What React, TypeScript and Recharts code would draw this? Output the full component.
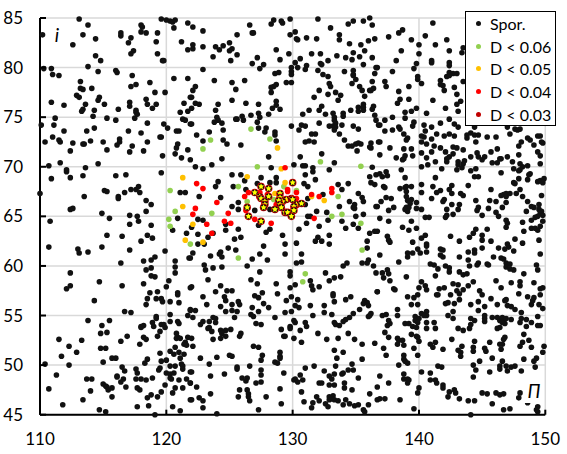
import React from "react";
import { ScatterChart, Scatter, XAxis, YAxis, CartesianGrid, Legend } from "recharts";

// Flat lists of Π, i value pairs, region by region.
const sporTopLeft = [113.1,84.9,113.8,84.3,110.2,83.3,113.4,83.3,114.4,82.9,112.6,82.3,116.4,83.5,116.4,83.2,117.2,83,117,82.5,118,84.3,118.1,84.1,118,83.6,118.4,83.5,119.3,83.5,119.2,82.6,119.6,84.9,120,84.8,120.3,84.7,120.5,84.6,120.7,84.8,120.6,84,121.7,84.5,121.2,82.6,121.7,81.8,119.3,81.4,117.4,81.7,117.2,81.4,114.4,81.2,114.8,80.7,113.8,80.1,110.3,79.9,110.9,79.9,111,79.3,111.5,79.2,114.6,79.6,116,79.7,116.1,79.5,119.7,80.7,119.8,80.7,117.3,79.2,120.6,78.9,121.7,78.9,113.2,78.6,118.7,78.5,117.6,78.3,117.2,78.1,113.2,77.9,113.4,77.8,114.1,77.9,119.1,77.5,119.9,77.5,112.9,77.2,113.1,77,114.7,77,114.6,76.7,110.9,76.5,111.9,76.2,113.6,76.3,115.1,76.3,117.1,76.5,117.1,76.1,118.4,76.8,118.5,76.3,119.2,76.3,118.9,75.9,121.4,76.4,121.9,77,114.3,75.7,113.4,75.8,113.3,75.6,116.2,75.8,117.6,75.7,117.6,75.5,117.7,75.3,121.1,75.5,121.7,75.6,114.2,75.1,111.2,74.9,115.3,74.9,116,74.7,117.5,74.9,121.3,74.8,121.5,74.7,110.1,74.2,111.1,74.2,118.5,74.4,119.8,74.3,121.9,74.3,111.9,73.6,113.7,73.6,114.3,73.9,117,73.6,118,73.4,120.1,73.9,120.8,73.6,121,73.6,111,73,116.3,72.8,116.3,72.5,119.6,73,119.5,73,110.4,72.5,111.5,72.7,111.6,72.5,112.6,72.4,113.4,72.3,113.5,72.3,114,72.6,115,72.5,116.1,72.2,117.3,72.1,118.5,72.5,120.9,72.3,120.8,71.9,121.7,71.7,115.3,71.7,112.4,71.6,118.2,71.6];
const sporTopMiddle = [122.1,84.1,122.9,83.7,122.1,82.3,122.1,81.9,122.9,82.1,123.9,82.1,124.2,81.8,124.5,82.2,125,82.5,125.2,81.9,125,81.7,125.6,83.3,123.7,81.1,125.6,81.3,125.1,80.7,126.6,84.3,126.8,83.5,126.9,83.5,128.5,84.8,128.3,84.4,129.1,84.7,129.2,84.5,129.8,84.9,132,84.9,130.2,83.6,129.8,83.3,130.3,82.9,130.4,82.8,131.1,83,131.9,82.9,133,84,133.7,83.3,133.7,82.8,134.4,84.4,134.8,84.7,135.6,84.7,136.1,85,136.3,84.3,134.5,82.4,135.4,82.3,136,82.7,136.5,82.9,128.7,81.8,127.2,81,129.7,81.4,131.5,81.4,132.2,81.4,129,80.8,130.6,80.9,126.8,80.4,127.7,80.3,127.4,79.9,130.2,80.5,131.1,80.2,130.4,80,131,79.8,132.2,80.4,132.3,80.3,132.8,80.7,133.5,81.2,134.2,81,134.7,80.8,134.8,81.5,135.3,81.1,135.7,81.7,136.3,81,135.6,80.3,136.6,80,136.5,79.4,136.3,78.6,122.9,79.8,129.9,80,129.9,79.6,129.9,79.3,129.9,78.5,129.5,78.5,128.6,79.4,128.9,79.5,132,79.7,132.4,79.3,132.8,79.1,134.1,79.6,134.8,79.7,134.8,79.3,134.8,79.2,135,78.8,134.7,78.4,123.8,78.7,125.2,78.5,126.2,78.7,128.7,78.3,128.5,78.1,128.3,78,128.3,77.5,122.3,78.1,122.1,77.7,125.5,77.8,132.9,78.4,133,78.1,132.1,77.7,133.4,77.5,132.8,77.3,133.8,77.2,131.7,77,135.3,78.1,135.5,77.7,136.1,77.7,136.2,77.7,136.4,77.9,135.7,77.1,122,77,122.3,76.4,122.6,76.3,122,75.9,123.9,75.7,124.1,76.3,125.2,76.7,126.3,76.4,127.3,76.3,128.7,76.6,128.7,76.2,128.4,75.9,129,75.8,133.6,76.7,132.3,76.1,132.1,75.7,131.3,75.7,134.6,75.7,135.2,75.6,135.2,76,135.6,76.3,135.6,76,135.6,75.7,136.3,75.8,136.4,76.1,136.5,75.2,127.3,75.4,127.4,75,126.7,75.2,126,75.1,128.1,75.3,130.8,75.3,132.6,75.3,133.2,75.4,133.3,75,134,75.4,134,75.1,124,75,124.1,74.7,124.4,74.4,123.8,74.5,125.5,74.8,125.6,74.8,126.1,74.7,122,74.3,127.2,74.5,127.3,73.9,127.9,73.9,127.8,73.5,128.6,73.5,128.6,73.2,129.9,74.1,130.5,73.7,130.7,74.2,131,74.1,132.1,74.4,131.5,73.3,131.8,73.3,133.3,74.7,133.4,74.4,132.9,74.1,133.2,74.1,133.4,74,133.3,73.7,133.7,73.3,133.9,74.2,134.8,74.1,135.2,73.8,136.6,74.7,136.8,74.2,124.5,73.7,123.4,73.5,122.4,73.2,124.5,72.7,124.8,72.3,122.9,72.6,125.9,72.2,128.7,72.6,131,72.5,131.3,72.6,131.7,72.5,134.1,72.7,134.4,72.1,134.7,72.1,135,72.3,135.2,72.4,135.4,72.3,136.2,72.4,136.2,71.9,136.8,72.5,135.1,71.6];
const sporTopRight = [141.1,84.5,138.7,83.8,138.4,83.5,137.6,83.1,139.4,82.8,140.5,83.2,142.2,82.8,140,82.3,141.3,82.3,138.6,81.7,140,81.4,142.4,81.7,143.5,82,143.4,81.5,138.2,80.7,139.8,80.4,141,80.7,141,80.5,142.4,80.5,142.4,80.2,136.7,80,137.9,79.6,139.6,79.9,139.9,79.1,139.9,78.8,140.2,78.4,142.4,79.5,142.2,79.1,142.7,79.4,143,79.4,142.4,79.2,137.3,78.6,137.4,78.1,141.7,78.7,141.7,78.3,141.9,78.2,142,77.7,142.8,78,143.5,78.6,138.4,77.6,139.2,78.1,143,77.3,138.5,76.8,138.3,76.4,139.2,76.8,141.1,76.7,143.3,76.6,143,76.3,139.8,75.9,139.4,75.6,138.9,75.5,142.1,75.9,143.1,75.6,140.6,75.4,137.3,74.7,137.9,75,138.9,74.9,142.4,74.8,136.9,74.2,137.3,73.6,137.9,73.7,138.4,74,138.5,73.8,139.6,74.5,139.5,74.1,138.8,73.3,139.1,72.9,139,72.7,140.4,74.2,141,74,141.7,74.4,142.8,74.3,143.1,74,144.4,74,140.5,73.6,141.4,73.3,140.4,73,140.2,73.1,141,72.8,142,73.1,142.4,73.3,142.8,73.1,143.8,73.2,144.1,73.4,144.4,73.2,143.8,72.9,144.7,73.2,145.4,73,146.1,73,144.5,72.5,147,74,147.2,73.3,147.6,73.8,147.8,73.7,148,73.8,148.6,72.9,148.8,72.7,149.1,72.2,149.4,73.1,149.6,73.1,149.7,72.5,149.8,72.4,148.1,72.5,147.9,72.1,137.7,71.9,136.9,72.5,138.8,71.8,139.4,71.8,140.2,72.5,140.6,72.3,141.2,72.1,141.7,71.9,142.7,72,143,71.9,143.5,71.7,146.2,71.8];
const sporMiddleLeft = [117.1,71.5,119.7,71.1,120.7,71.3,121.2,70.9,121.9,70.7,110.7,70.1,111.6,70.4,112.1,69.7,112.1,69.5,113.6,69.9,114.6,70.3,110.9,68.8,112.4,68.9,113.4,69.1,116,69.1,116.8,69.2,119.6,69.4,110,67.3,113.5,67,115.1,67.6,115.3,67.5,116.2,67,116.2,66.8,116.7,67.4,117.2,67.7,117.6,67.7,117.8,68,117.9,67.4,118.4,66.6,118.8,66.2,121.1,67.4,121.5,67.4,112.4,65.7,112.6,65.8,114.9,65.3,118.4,65.5,117.1,65.1,117.7,65,110.8,64.5,115.5,64.8,117.8,64.5,117.1,64.2,118.8,64.1,120.9,64.8,120.5,63.6,115.3,63.1,116.5,63,118.5,63.1,118.9,62.8,118,62.5,121.6,63.3,110.7,61.9,113,61.7,113.1,61.3,113.8,61.4,114.9,61.9,117.1,61.6,119.9,61.5,118.2,60.5,118.8,60.6,119.1,60.9,120.7,60.5,121.9,60.8,116.4,60.3,118.4,59.6,118.8,59.8,120.7,59.9,120.7,59.3,112.4,59.3,118.8,59,119.1,58.9,120.2,58.5,114.7,58.4,116.5,58,118.2,58.2,112.4,58,112.1,57.7,120,57.9,118.7,57.3,119.3,57.4,120.9,57.3,120.9,57.1,118.5,56.7,119.2,56.7,119.6,56.7,114.3,56.5,121.9,57.8];
const sporCentre = [122.3,70,122.9,69.8,123.6,70.2,124.4,70.8,128.1,71,130.6,71,132.3,71.3,133.3,70.4,130.1,70.2,130.8,70.1,131,70.1,131.6,69.9,131.6,69.5,132.9,69.7,125.2,69.2,125.9,69.2,127.5,68.9,128.3,69.9,128.7,68.9,124.1,68.5,126.2,68.6,127.2,68.3,128.2,68.4,128.7,68.4,131,69.2,130.9,68.3,131.8,68.7,123.9,68,125.3,68,131.2,68,133.6,68.2,134.4,68.3,133.9,67.7,135.2,67.3,126.3,67.7,122.6,67,124.3,66.9,125.7,66.4,125.2,66,125.7,65.7,127,65.6,128.2,65.7,131,66.2,131.2,66.8,132.4,67.2,131.9,65.5,132.7,65.4,134.5,66.5,134.9,66.2,134.8,65.9,134.9,65.8,133.7,66,131.2,65,131.4,65,132.8,64.6,131.1,64.3,132.1,64,133.9,64.5,134.8,64.2,134.2,63.8,135,65,130.5,63.7,129.2,63.1,132.9,63.1,132,62.9,131.8,62.5,132.3,62.5,132.9,62.2,130.3,62.3,129.4,62.2,127.7,62,129.4,61.2,130.7,61.2,127.4,61.2,127.3,64.1,128.2,63.7,127.9,63.4,125.7,63.7,124.7,63.6,124.7,64.2,125.9,62.9,125.4,62.7,123.3,62.9,123.7,63.3,122.5,63.2,122,63.9,122.9,64.6,122.5,64.7,123,62.2,122.5,62.2,124.9,61.8,125.5,61.6,122.1,61.3,121.8,60.8,123.5,61,124.3,61.4,124.2,61.2,124.4,60.9,126.8,60.7,128,60.6,126.4,60,130.7,60.4,130.3,60.3,134.3,60.3,134,60,123,60.1,123.1,59.6,123.7,59.8,124.4,59.9,127.4,59.4,129.8,59.4,129.8,59,132.6,59.3,133.3,58.8,133.8,58.9,136.1,72,136.3,69.95,136.1,69,136.6,69.2,136.2,68.4,136.5,68.2,135.5,66.9,135.6,66.5,136.6,66,135.6,65.2,135.2,63.8,136.1,63.3,136.5,63.5,135.9,62.5,135.9,61.8,136,60.6,135.5,60.3,135.9,60.3,136.4,60,136.6,59.3];
const sporMiddleRight = [136.9,71.2,138.2,70.9,138.7,70.7,138.9,71.1,138.8,70.8,139.5,71.1,140.2,71.4,140.6,70.9,141,71.5,141.3,70.5,140.7,70.2,140.2,70,142.1,71.5,142.7,71.3,142.4,71,142.2,70.8,142.2,70.5,143.1,70.5,143.1,70.2,143.6,70.6,143.5,70.3,143.4,69.9,143,69.7,144.1,71,144.6,71.4,144.7,71,145.2,71,145,70.7,145.7,71.5,145.8,70.4,146.2,70.4,146.4,70.8,146.5,70.8,147,71,147.4,70.5,147.9,71.2,149.4,71.5,149.6,71.1,149.6,70.3,148,70.3,148.2,70,148.6,70.1,148,69.7,147.5,69.8,147.9,69.6,141.8,69.8,144.1,69.6,144.5,69.8,144.4,69,144.7,69,146.5,69.4,138.6,69.7,137.4,69.5,137.5,69.1,136.9,69.3,137.1,69,138.9,68.9,141.3,68.9,148.8,69.3,148.7,69.2,148.6,68.7,147.9,68.8,147.5,68.4,147.6,68.3,149.4,68.5,149.6,68.6,149.9,68.8,149.8,68.4,143.9,68.1,142.6,68.1,142.4,67.7,142.6,67.3,141.1,68,141.7,67.6,141.4,67.4,140.2,68.2,140.2,67.4,137.2,68,137.3,67.9,138.5,67.8,138.9,67.9,139,68,139.4,68,139,67.5,139,67,139.1,66.6,139.4,66.7,139.3,66.3,139,65.9,139.2,65.9,138.9,65.7,139.1,65.5,137.4,66.9,137.8,66.8,137,66.5,136.7,66,137.6,65.6,138,65.9,139.8,66.4,139.8,65.8,140.2,65.7,141,66.8,142,66.7,141.9,66.5,143.3,67.3,143.5,67.1,145.7,67.7,144.5,66.6,145.6,66.6,146.1,66.5,146.7,67.2,146.9,67.3,146.9,67,146.9,66.4,147.2,67.3,147.7,67.3,148,67.7,148.2,67,146.5,67.1,148.6,66.5,148.9,66,149.1,65.9,149.5,66.2,149.7,67.1,142.6,66.2,143.2,66.2,142.2,65.7,143.1,65.7,144.7,65.9,144.6,65.6,145.5,65.8,146.6,65.9,146.1,65.4,146.3,65,148.5,65.5,149.5,65.7,149.7,65.5,149.6,65.3,149.8,65.1,142.7,65.2,142.2,65.1,142.1,64.9,145,65.1,140.5,64.9,140.8,64.9,136.9,64.8,137.6,64.5,139.4,64.5,146.9,64.6,147,64.3,146.9,63.9,148.2,64.4,148.3,63.5,148.9,64.6,149.2,64.9,149.4,65,149.8,64.5,149.6,64,149.4,63.6,148.9,63.8,149.2,63.8,138.7,63.9,139.2,63.6,139.8,63.8,136.7,63.5,145.4,63.7,144.5,63.7,144.3,63.3,144,62.9,145,63.1,145,62.6,145.7,62.5,142.5,63,143.2,62.5,140.5,63.1,140.2,62.8,137.5,63,137.6,62.6,137.7,62.4,139.5,62.4,147.6,62.7,148.2,62.3,149.5,62.6,140.6,62.2,140.6,62,139.9,61.7,140.1,61.3,140.6,61.4,139.5,61.3,139.1,61.3,139.1,60.9,138.4,60.4,136.9,61.1,141.7,61.7,141.9,61.6,141.7,61.1,141.9,60.9,143.2,60.9,143.9,61.4,144.4,61.6,144.4,61.3,145,61.8,146.3,61.8,146.8,61.7,147,62.2,147.1,61.9,147.5,61.5,149.6,61.2,145.9,60.9,146.5,60.8,146.7,60.7,143.9,60.6,144,60,144.7,60.3,144.6,60.1,145.4,60.2,145.5,60.1,146.9,60.3,147.2,60.2,146.9,59.9,147.2,59.7,147.5,59.6,140.9,60.2,141.2,60.1,141.5,59.7,142.1,60,142.4,59.8,142.4,59.4,143.2,59.4,143.5,59.1,143.8,59.2,141.3,59,139,58.9,137.5,59.6,137.6,59.2,137.1,59.3,137.2,58.8,137.7,58.5,138,57.7,138.1,57.6,149.3,60.1,149.4,59.6,148.3,59.2,140.2,58.4,140.5,58,140.6,57.6,140,57.8,141.6,57.7,142,57.8,142.7,58.2,143.1,58.1,143,57.5,143.2,57.2,143.5,57.6,143.9,58,144.3,58.4,141.5,57.1,141.4,57.1,142.5,57.1,139.9,57.1,139.6,56.8,139.1,56.9,146.1,58.5,146.5,57.8,147.3,58.3,148,58.4,148,58,147.9,57.2,149.1,58.3,148.6,56.9,149.6,57.7,149.8,57.8,149.6,57.1,149.1,56.8,144.8,57.5,145,57.1,145.7,56.7,146.9,56.6,143.2,56.6,136.7,57.4];
const sporBottomLeft = [118.4,56.1,119.7,56.4,120.3,56.4,121,56.3,121.9,55.6,116.7,55.4,117.2,55.3,119.2,54.9,119.2,54.7,120.3,55.1,121.7,55,113.8,54.5,115.5,54.5,114.9,54,120.3,54.4,120.9,54.4,121,54.2,118.9,54.3,119,53.9,118,53.9,118,53.8,118.2,54,119.6,54.1,119.8,54.1,119.9,53.8,119.5,53.4,114.8,53.2,115.3,53.3,116.9,52.9,119.3,52.9,118.2,52.8,118.4,52.6,120.8,53.2,120.9,52.8,120.8,52.7,121.1,52.7,121.7,52.8,111.5,52.6,113.3,52.5,116.4,52.4,117.9,52.1,112.3,51.9,121.5,52.3,121.4,52.1,121.6,52,114.8,51.7,115.2,51.7,112.9,51.3,111.7,50.9,112.3,50,120.7,51.8,120.3,51.4,120.6,51.1,121,51.3,121.4,51.1,119.5,51.2,115.7,50.7,116,50.7,115,50.3,118.5,50.6,118.3,50.2,119.6,50.4,120,50.5,121.1,50.7,121.2,50.1,121.3,49.9,110.4,50.1,116.5,49.8,116.7,49.4,117.6,49.6,117.7,49.2,119.5,49.7,119.4,49.5,120.3,49.9,120.7,49.9,121.3,49.6,120,49.2,120.3,49.1,120.6,49.2,116.1,48.9,116.1,48.8,111.3,49,113.7,48.6,114.1,48.6,116.6,48.6,116.4,48.3,117.6,48.6,118,48.6,118.4,48.5,118.9,48.7,120.3,48.7,120.4,48.6,121,48.5,121.6,48.6,121.9,49.3,119.9,48,120.7,47.7,121.3,47.7,121.9,48.2,115,48.1,115.2,47.9,115.3,47.8,115.7,47.7,115.4,47.5,116.8,47.8,110.7,47.6,114,47.4,117.7,47.7,117.9,47.5,119.6,47.3,120.5,47.2,118.8,47,118.5,46.7,119.3,46.8,115.7,46.8,113.4,46.5,111.8,46,117.7,45.8,118.6,45.9,120.5,45.8,121.9,46.5,114.7,45.5,115.2,45.3,121.1,45.4,119.1,45];
const sporBottomMiddle = [123.3,58.6,126.7,58.6,127.2,58.2,128.7,58.2,129.8,57.8,130.2,58.1,131.4,58.5,131.5,58,131.6,57.6,132.1,57.9,132.9,58.5,122,57.9,124.3,58,123.9,57.4,124.8,57.5,125.2,57.5,122.9,56.9,124.6,56.9,124.7,56.5,123.2,56.1,124.3,55.9,125.2,56.1,125.2,55.5,124.7,55.4,125.7,56.4,125.8,56.1,127,57,127.3,56.8,127.6,57.3,127.7,56.2,128.1,55.8,126.8,55.8,127.3,55.4,128.8,57.2,129.9,56.9,129.5,56.5,130.4,56.6,130.2,56,130.5,55.8,129.4,55.3,129.9,55.4,131.4,56,133.2,57.2,133.2,57,133.3,56.4,132.5,56,132.5,55.3,131.6,55,134.2,56.6,134.6,56.9,135.7,56.5,135.9,56.3,135.6,56.2,136,56,135.3,55.6,136.7,57.4,122.3,55.5,121.9,55.5,122.1,54.8,126.7,55.1,126.9,54.9,125.6,55.4,125.4,54.8,123.7,54.8,123.9,54.7,123.9,54.3,123.4,54.4,122.9,54.4,122.7,54.1,128.6,54.8,133.1,55.1,134.8,55.2,134.5,54.8,134.2,54.6,134,54.4,133.7,54,133.3,54.3,133.4,54.1,136.2,55.2,136,54.9,136.1,55,130.1,54.5,130.2,54.3,129.8,53.9,129.8,53.7,131,54.3,131.1,53.9,127.1,54.2,127.5,54.1,123.3,53.7,123.4,53.8,123.6,53.4,125.1,53.6,124.7,53.5,124.3,53.5,124.4,53.2,124.7,52.9,125.9,53.2,125.8,52.9,129.1,53.6,130.6,53.5,132,53.2,134.4,53.2,129.3,52.9,129.4,52.9,130.1,52.7,130.7,52.3,132.7,52.6,133.6,52.7,134.9,52.6,135.5,52.1,136.5,52.2,122,52.7,123.7,52.6,124.3,52.7,122.1,51.9,126.9,51.9,127.3,51.8,133.3,51.5,134,51.3,135.5,50.6,133.5,50.7,133.4,49.9,127.6,51,127.5,50.5,129,51.3,129,50.9,129,50.7,125,51,125.2,50.9,124,50.8,122.7,50.7,128.6,50.3,128.8,50.2,123.4,50.1,125.6,49.8,125.6,49.6,126.6,49.9,131,49.7,131.7,49.9,134.7,50.1,132.5,49.4,134,49.2,133.9,49.1,134.4,49.5,134.8,49.5,133.3,49.1,132.9,48.9,133.1,48.6,135.2,48.7,127.5,49.5,127.5,49,129.3,49.2,130.6,49,124.6,49.1,123.5,48.9,122,49.3,126,48.7,126.4,48.7,126.3,48.4,127.5,48.3,127.1,48.2,130.1,48.5,130.2,48.6,130.4,48.3,130.8,48.5,132.1,48.2,132.3,48.2,132.9,48,133.3,48,134.1,48.2,134.1,47.7,134.7,47.5,136.7,47.8,121.9,48.2,122.4,47.8,129,47.6,125.8,47.5,126.4,47.5,126.5,47.1,123.5,47.1,125.7,46.8,126.5,46.8,126.6,46.4,127.9,46.8,130.7,47.3,136.1,47.1,131.9,46.8,132.1,46.4,131.6,46.2,131.5,45.7,130.9,46.3,129.1,46.1,127.3,45.5,124,45.1,132.9,46.8,133.2,46.9,133.1,46.6,132.9,46.5,132.6,46.1,132.8,45.8,133.3,46.5,133.6,46.4,134.2,46.5,134.5,46.1,134.9,45.9,135.2,46,135.6,45.5,135.7,45.3,136,46,134,46,122.6,46.7,122.9,46.4,122.9,45.7,122,46.5,136.7,46.5];
const sporBottomRight = [139.4,56.1,139.9,56.1,142.1,56.2,142.3,56.3,142.8,56.2,144.1,56.1,144.7,56.4,145.2,55.9,144.7,55.5,146.2,56.1,146.8,56.5,147,56,147.3,55.9,147.6,55.6,148.9,56.1,149.5,56.1,149.8,55.7,149,56.5,137.1,55,137.4,55.1,138.3,55.6,138.3,55,140.2,55.2,140.6,55.4,140.6,55,142.7,55.4,142.3,55,142.7,54.7,148.1,55.3,149.4,54.9,139.7,54.9,140,54.7,139.7,54.5,139.9,54.3,140.4,55,137.6,54.5,137.7,54.2,137.5,54,138.9,54.2,139.2,54.2,139.5,53.9,139.8,53.8,140.6,54.3,141.2,54.3,140.6,53.7,141.3,53.7,144.1,54.7,144.4,54.5,145.2,55,145.2,54.7,145.2,54.4,145.8,54.8,146.2,54.8,146.4,54.5,146.6,54.8,146.7,54.5,146.8,54.2,146.9,54.7,147.3,54.6,146.2,53.7,146.4,53.8,146.6,54.3,148,54.3,148.5,54.6,148.9,54.3,148.5,53.9,149.4,54,149.6,54,148.1,54.7,143.1,53.7,143.5,53.5,144,53.7,144.1,54.1,137.3,53.3,137.6,52.8,139.4,53.1,139.8,52.9,139.9,52.8,140,52.4,138.3,52.7,138.4,52.5,138.7,52.5,138.8,52,138.3,52.1,142.6,52.6,144.4,52.4,145.6,52.3,146.8,52.8,146.7,52.6,146.6,52.1,148.3,53.1,148.7,52.5,148.2,52.3,148,51.9,148.9,51.8,140.9,52.1,141.1,51.8,141.3,52.3,141.9,51.6,139.6,51.7,137.2,51.7,137.4,51,138.8,51,139.9,51,143.4,51.9,143.1,51.5,143.3,51.3,143.3,50.9,144.3,51.4,144.3,51.8,145.2,51.7,145.3,51.4,146.4,52.1,146.5,51.6,149.9,51.9,149.8,51.3,145.8,50.7,138.8,50.6,138.9,50.4,139.1,50.2,138.4,50,141.5,49.9,141.8,49.8,144.3,50,144.8,50.4,144.5,49.5,145.6,49.3,144.3,48.8,146.6,50.4,146.4,49.9,146.4,49.6,146.9,49.9,147,49.4,147.3,49.8,147.6,49.9,148.1,49.4,148.3,50.6,149.3,50.7,149.1,50.4,149.2,49.8,138.8,49.1,138.8,48.6,139.1,48.6,139.2,48.5,139.1,48.2,140.2,49.3,140.9,49.2,140.9,48.5,141.3,48.5,141.4,48.2,141.9,48,141.9,47.7,137.6,48.2,136.9,48.9,140,47.7,139.9,47.2,142.4,47.3,142.3,46.8,142.8,47.5,142.9,47.2,143.2,46.6,143.9,46.4,144.4,46.4,145,47.2,145.4,47.1,146.1,47.2,146.4,47,146.7,47.1,148,47.2,147.9,46.7,145.8,46.1,136.9,46.6,137.3,46.6,138.5,46.5,139.6,45.6,146.7,45.5,147.2,45.6,149.3,45.5,149.4,45.3,149.4,45.8,144.1,45,148.6,46.2];
const d006 = [126.7,73.8,128.2,72.8,123.5,72.7,122.9,71.8,120.3,67.6,120.7,65.5,120.2,64.7,120.3,64,121.9,62.2,127.2,70,132.2,70.5,135.4,70.05,125.7,68,129.3,68,130.3,67.6,126.4,66.5,128.5,66.7,133.6,67,133.9,65.2,135.4,64.3,123.6,65.3,125.7,60.8,131,59.2,130.8,58.4,135.5,61.6,133.1,65];
const d005 = [128.8,71.9,129.1,69.8,126.4,69,121.3,68.9,121.3,66,122.1,64.2,121.5,62.6,122.9,62.4,129.4,68.4,128.6,67.3,131.5,67,132.5,66.6];
const d004 = [122.4,68.3,122.9,67.8,124,66.4,122.3,65.8,122.1,65.2,123.2,64.2,123.6,63.3,124.9,65.3,124.6,64.5,125.1,64.3,126.3,65.6,127,64.7,128.3,64.3,126.2,67,126.5,67.4,127.4,67.4,127.5,68.1,128,67.2,129.4,69.9,129.6,67.7,129.6,67.5,130.3,67.4,130.3,66.8,128.7,66.2,131.5,67.2,132.1,67,131.7,64.8,133.1,67.8,133.1,67.4];
const d003 = [130,68.4,127.5,68,128.1,67.8,127,67.4,129,67.3,128.1,67,127.4,67,127.5,66.8,129,66.9,129.5,66.7,129.9,66.8,130,66.7,129.2,66.5,127.8,66.5,128.9,66.6,127.8,66.2,129,66.2,127.7,65.9,129.1,65.9,128.6,65.7,126.4,65.9,130.3,66.2,130.7,66.3,130.1,66,130.1,65.6,129.4,65.4,129.6,65.4,129.9,65,126.5,65,127.5,64.5];

const xTicks = [110, 120, 130, 140, 150];
const yTicks = [45, 50, 55, 60, 65, 70, 75, 80, 85];
const seriesNames = ["Spor.", "D < 0.06", "D < 0.05", "D < 0.04", "D < 0.03"];
const seriesColors = ["#111111", "#92d050", "#ffc000", "#ff0000", "#c00000"];

const toPoints = (flat: number[]) => {
  const out: { x: number; y: number }[] = [];
  for (let i = 0; i + 1 < flat.length; i += 2) out.push({ x: flat[i], y: flat[i + 1] });
  return out;
};

const FONT = "Lato, 'Open Sans', sans-serif";

const dotShape = (color: string, r: number) => (p: any) => <circle cx={p.cx} cy={p.cy} r={r} fill={color} />;

const starShape = (p: any) => {
  const pts: string[] = [];
  for (let k = 0; k < 10; k++) {
    const a = -Math.PI / 2 + (k * Math.PI) / 5;
    const rad = k % 2 === 0 ? 3.2 : 1.6;
    pts.push(`${p.cx + rad * Math.cos(a)},${p.cy + rad * Math.sin(a)}`);
  }
  return (
    <g>
      <circle cx={p.cx} cy={p.cy} r={3.8} fill="#e00000" />
      <circle cx={p.cx} cy={p.cy} r={3.1} fill="#111111" />
      <polygon points={pts.join(" ")} fill="#ffff00" />
    </g>
  );
};

const XTick = (p: any) => (
  <g>
    <line x1={p.x} x2={p.x} y1={p.y} y2={p.y - 5} stroke="#000" strokeWidth={2} />
    <text x={p.x} y={p.y + 30} textAnchor="middle" fontFamily={FONT} fontSize={17} fill="#000">
      {p.payload.value}
    </text>
  </g>
);

const YTick = (p: any) => (
  <g>
    <line x1={p.x} x2={p.x + 6} y1={p.y} y2={p.y} stroke="#000" strokeWidth={2} />
    <text x={p.x - 17} y={p.y + 6} textAnchor="end" fontFamily={FONT} fontSize={17} fill="#000">
      {p.payload.value}
    </text>
  </g>
);

const LegendBox = ({ payload }: any) => {
  const items = [...(payload || [])].sort(
    (a: any, b: any) => seriesNames.indexOf(a.value) - seriesNames.indexOf(b.value)
  );
  return (
    <div
      style={{
        width: 91,
        height: 115,
        boxSizing: "border-box",
        border: "1.5px solid #000",
        background: "#fff",
        fontFamily: FONT,
        fontSize: 16,
        color: "#000",
        whiteSpace: "nowrap",
      }}
    >
      {items.map((e: any) => (
        <div key={e.value} style={{ display: "flex", alignItems: "center", height: 22.8 }}>
          <span
            style={{
              display: "inline-block",
              flex: "none",
              width: 5,
              height: 5,
              borderRadius: "50%",
              background: e.color,
              marginLeft: 10,
              marginRight: 9,
            }}
          />
          <span>{e.value}</span>
        </div>
      ))}
    </div>
  );
};

const noteStyle = (left: number, top: number, w: number, h: number): React.CSSProperties => ({
  position: "absolute",
  left,
  top,
  width: w,
  height: h,
  background: "#fff",
  fontFamily: FONT,
  fontStyle: "italic",
  fontSize: 19,
  lineHeight: `${h}px`,
  textAlign: "center",
  color: "#000",
});

export default function App() {
  const spor = [
    ...sporTopLeft,
    ...sporTopMiddle,
    ...sporTopRight,
    ...sporMiddleLeft,
    ...sporCentre,
    ...sporMiddleRight,
    ...sporBottomLeft,
    ...sporBottomMiddle,
    ...sporBottomRight,
  ];
  return (
    <div style={{ position: "absolute", left: 0, top: 0, width: 567, height: 454, background: "#fff" }}>
      <ScatterChart width={567} height={454} margin={{ top: 18, right: 21.7, left: 0, bottom: 0 }}>
        <CartesianGrid stroke="#d9d9d9" strokeWidth={1.5} />
        <XAxis
          type="number"
          dataKey="x"
          domain={[110, 150]}
          ticks={xTicks}
          height={39.3}
          interval={0}
          axisLine={{ stroke: "#000", strokeWidth: 2 }}
          tickLine={false}
          tickSize={0}
          tickMargin={0}
          tick={XTick}
        />
        <YAxis
          type="number"
          dataKey="y"
          domain={[45, 85]}
          ticks={yTicks}
          width={40}
          interval={0}
          axisLine={{ stroke: "#000", strokeWidth: 2 }}
          tickLine={false}
          tickSize={0}
          tickMargin={0}
          tick={YTick}
        />
        <Scatter name={seriesNames[0]} data={toPoints(spor)} fill={seriesColors[0]} shape={dotShape(seriesColors[0], 2.8)} isAnimationActive={false} />
        <Scatter name={seriesNames[1]} data={toPoints(d006)} fill={seriesColors[1]} shape={dotShape(seriesColors[1], 2.8)} isAnimationActive={false} />
        <Scatter name={seriesNames[2]} data={toPoints(d005)} fill={seriesColors[2]} shape={dotShape(seriesColors[2], 2.8)} isAnimationActive={false} />
        <Scatter name={seriesNames[3]} data={toPoints(d004)} fill={seriesColors[3]} shape={dotShape(seriesColors[3], 2.8)} isAnimationActive={false} />
        <Scatter name={seriesNames[4]} data={toPoints(d003)} fill={seriesColors[4]} shape={starShape} isAnimationActive={false} />
        <Legend
          layout="vertical"
          align="center"
          verticalAlign="middle"
          content={LegendBox}
          wrapperStyle={{ position: "absolute", left: 465, top: 11, width: 91, height: 115 }}
        />
      </ScatterChart>
      <div style={noteStyle(50, 24, 14, 22)}>i</div>
      <div style={noteStyle(524, 378, 20, 25)}>П</div>
    </div>
  );
}
